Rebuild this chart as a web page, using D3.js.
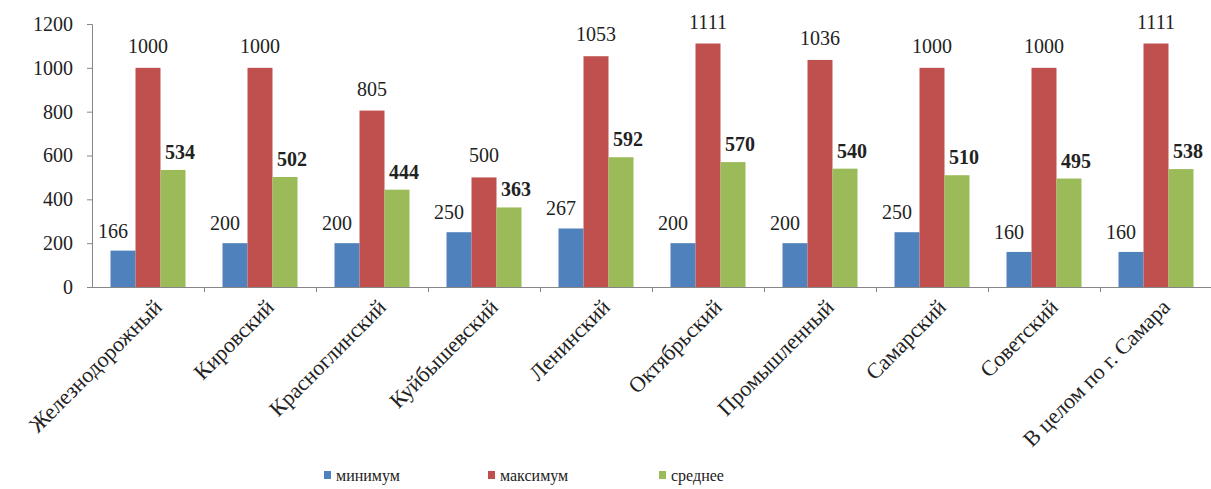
<!DOCTYPE html>
<html>
<head>
<meta charset="utf-8">
<script src="https://cdn.jsdelivr.net/npm/d3@7"></script>
<style>
	body { margin:0; background:#fff; }
	svg text { font-family:"Liberation Serif", "Times New Roman", serif; fill:#222; }
</style>
</head>
<body>
<svg id="CHART"></svg>
<script>
var districts = ["Железнодорожный","Кировский","Красноглинский","Куйбышевский","Ленинский","Октябрьский","Промышленный","Самарский","Советский","В целом по г. Самара"];
var minValues  = [166, 200, 200, 250, 267, 200, 200, 250, 160, 160];
var maxValues  = [1000, 1000, 805, 500, 1053, 1111, 1036, 1000, 1000, 1111];
var meanValues = [534, 502, 444, 363, 592, 570, 540, 510, 495, 538];
var seriesNames = ["минимум","максимум","среднее"];
var yTicks = [0, 200, 400, 600, 800, 1000, 1200];

(function(){
	var width = 1211,
		height = 489,
		serif = "'Liberation Serif', 'Times New Roman', serif",
		colors = ["#4f81bd", "#c0504d", "#9bbb59"],
		axisColor = "#868686";

	var series = [minValues, maxValues, meanValues];

	var svg = d3.select("#CHART")
		.attr("width", width)
		.attr("height", height)
		.attr("font-family", serif);

	var x = d3.scaleBand()
		.domain(districts)
		.range([92, 1212]);

	var x1 = d3.scaleBand()
		.domain(seriesNames)
		.range([0, x.bandwidth()])
		.paddingOuter(0.74);

	var y = d3.scaleLinear()
		.domain([0, 1200])
		.range([287, 24]);

	// y axis
	var yAxis = svg.append("g")
		.attr("transform", "translate(92,0)")
		.call(d3.axisLeft(y).tickValues(yTicks).tickFormat(d3.format("d")).tickSize(5).tickPadding(14));
	yAxis.attr("font-family", serif).attr("font-size", 20);
	yAxis.select(".domain").attr("stroke", axisColor);
	yAxis.selectAll(".tick line").attr("stroke", axisColor);
	yAxis.selectAll(".tick text").attr("fill", "#222");

	// x axis line + ticks at band boundaries
	svg.append("line")
		.attr("x1", 92).attr("x2", 1212)
		.attr("y1", y(0) + 0.5).attr("y2", y(0) + 0.5)
		.attr("stroke", axisColor);
	svg.selectAll(".xtick")
		.data(districts)
		.enter().append("line")
		.attr("class", "xtick")
		.attr("x1", function(d){ return x(d) + x.bandwidth() + 0.5; })
		.attr("x2", function(d){ return x(d) + x.bandwidth() + 0.5; })
		.attr("y1", y(0)).attr("y2", y(0) + 5)
		.attr("stroke", axisColor);

	// bars
	var groups = svg.selectAll(".grp")
		.data(districts)
		.enter().append("g")
		.attr("class", "grp")
		.attr("transform", function(d){ return "translate(" + x(d) + ",0)"; });

	seriesNames.forEach(function(s, si){
		groups.append("rect")
			.attr("x", x1(s))
			.attr("width", x1.bandwidth())
			.attr("y", function(d, i){ return y(series[si][i]); })
			.attr("height", function(d, i){ return y(0) - y(series[si][i]); })
			.attr("fill", colors[si]);
	});

	// value labels
	var labelDx = [-10, 0, 7],
		labelDy = [-13, -15, -11];
	seriesNames.forEach(function(s, si){
		groups.append("text")
			.attr("x", x1(s) + x1.bandwidth() / 2 + labelDx[si])
			.attr("y", function(d, i){ return y(series[si][i]) + labelDy[si]; })
			.attr("text-anchor", "middle")
			.attr("font-size", 20)
			.attr("font-weight", si == 2 ? "bold" : "normal")
			.text(function(d, i){ return series[si][i]; });
	});

	// category labels
	svg.selectAll(".cat")
		.data(districts)
		.enter().append("text")
		.attr("class", "cat")
		.attr("text-anchor", "end")
		.attr("font-size", 22)
		.attr("transform", function(d){
			return "translate(" + (x(d) + x.bandwidth() / 2 + 10) + ",303) rotate(-45)";
		})
		.attr("dy", "0.35em")
		.text(function(d){ return d; });

	// legend
	var legendX = [324, 488, 659];
	var legend = svg.selectAll(".leg")
		.data(seriesNames)
		.enter().append("g")
		.attr("class", "leg")
		.attr("transform", function(d, i){ return "translate(" + legendX[i] + ",471)"; });
	legend.append("rect")
		.attr("width", 7).attr("height", 8)
		.attr("fill", function(d, i){ return colors[i]; });
	legend.append("text")
		.attr("x", 12).attr("y", 10)
		.attr("font-size", 16)
		.text(function(d){ return d; });
})();
</script>
</body>
</html>
